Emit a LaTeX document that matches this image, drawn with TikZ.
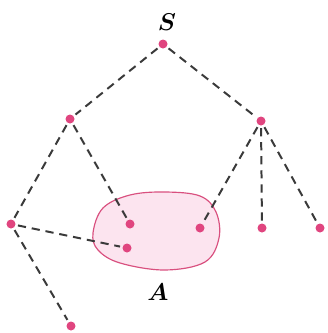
\documentclass[tikz,border=0pt]{standalone}
\usepackage{bm}

\definecolor{dotpink}{HTML}{E0457F}
\definecolor{blobfill}{HTML}{FCE4EF}
\definecolor{blobline}{HTML}{D9507F}
\definecolor{edgegray}{HTML}{3A3A3A}

\begin{document}
\begin{tikzpicture}[
    x=0.03cm, y=-0.03cm,
    vertex/.style={circle, fill=dotpink, minimum size=0.27cm, inner sep=0pt},
    link/.style={edgegray, line width=1.7pt, dash pattern=on 7pt off 5pt, shorten >=2pt, shorten <=2pt},
    lbl/.style={font=\fontsize{21}{24}\selectfont}
]
\useasboundingbox (0,0) rectangle (327,333);

% The set A
\draw[blobline, fill=blobfill, line width=1pt] plot[smooth cycle, tension=0.6]
    coordinates {(93,233) (103,208) (130,195) (165,192) (200,196) (216,212)
                 (219,238) (205,262) (165,270) (120,263) (98,250)};
\node[lbl] (labA) at (158,292) {$\bm{A}$};

% Root
\node[vertex] (s) at (163,44) {};
\node[lbl] (labS) at (167,22) {$\bm{S}$};

% Middle level
\node[vertex] (m1) at (70,119) {};
\node[vertex] (m2) at (261,121) {};

% Lower level
\node[vertex] (l1) at (11,224) {};
\node[vertex] (a1) at (130,224) {};
\node[vertex] (a2) at (127,248) {};
\node[vertex] (a3) at (200,228) {};
\node[vertex] (r1) at (262,228) {};
\node[vertex] (r2) at (320,228) {};

% Bottom
\node[vertex] (b1) at (71,326) {};

% Edges
\draw[link] (s) -- (m1);
\draw[link] (s) -- (m2);
\draw[link] (m1) -- (l1);
\draw[link] (m1) -- (a1);
\draw[link] (m2) -- (a3);
\draw[link] (m2) -- (r1);
\draw[link] (m2) -- (r2);
\draw[link] (l1) -- (a2);
\draw[link] (l1) -- (b1);

\end{tikzpicture}
\end{document}
